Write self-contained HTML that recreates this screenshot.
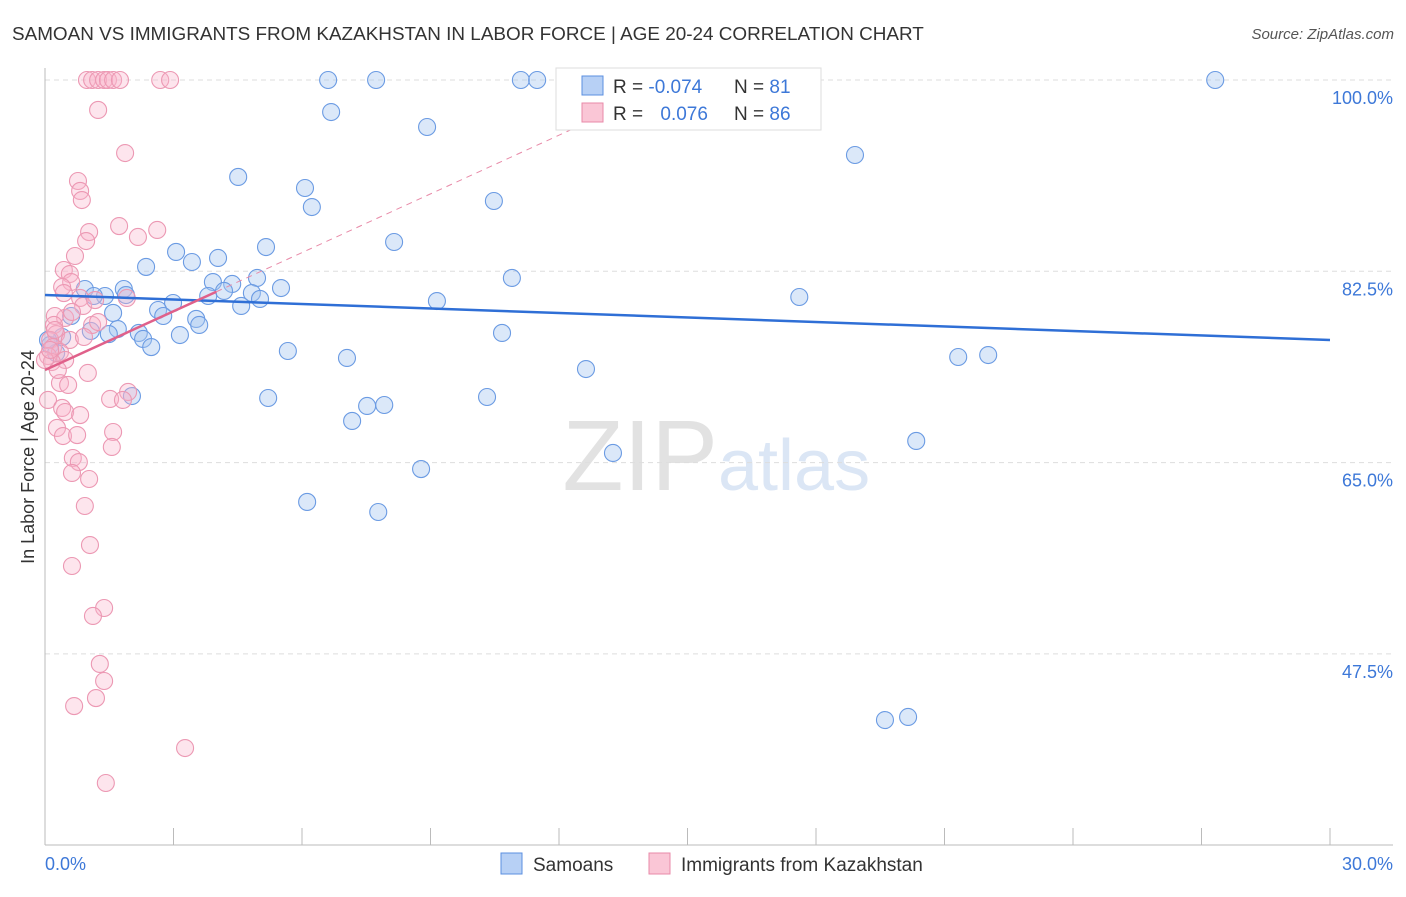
<!DOCTYPE html>
<html><head><meta charset="utf-8"><style>
body{margin:0;background:#fff;font-family:"Liberation Sans",sans-serif;}
svg text{font-family:"Liberation Sans",sans-serif;}
</style></head><body>
<svg width="1406" height="892" xmlns="http://www.w3.org/2000/svg">
<text x="12" y="40" font-size="18.9" fill="#333">SAMOAN VS IMMIGRANTS FROM KAZAKHSTAN IN LABOR FORCE | AGE 20-24 CORRELATION CHART</text>
<text x="1394" y="39" font-size="15" fill="#555" font-style="italic" text-anchor="end">Source: ZipAtlas.com</text>
<text x="718" y="490" font-size="100" fill="#e2e2e2" text-anchor="end" font-family="Liberation Serif">ZIP</text>
<text x="718" y="490" font-size="72" fill="#dbe6f5">atlas</text>
<g id="grid"></g>
<g id="axes"></g>
<g id="pts"></g>
<g id="trend"></g>
<text transform="translate(34,457) rotate(-90)" font-size="18" fill="#333" text-anchor="middle">In Labor Force | Age 20-24</text>
<text x="45" y="870" font-size="18" fill="#3d78d8">0.0%</text>
<text x="1393" y="870" font-size="18" fill="#3d78d8" text-anchor="end">30.0%</text>
<g>
<rect x="556" y="68" width="265" height="62" fill="#fff" stroke="#ddd"/>
<rect x="582" y="76" width="21" height="19" fill="#b7d0f5" stroke="#5b8fe0"/>
<rect x="582" y="103" width="21" height="19" fill="#fac6d6" stroke="#e88aa8"/>
<text x="613" y="93" font-size="19" fill="#333">R = <tspan fill="#3d78d8">-0.074</tspan></text>
<text x="734" y="93" font-size="19" fill="#333">N = <tspan fill="#3d78d8">81</tspan></text>
<text x="613" y="120" font-size="19" fill="#333">R = <tspan fill="#3d78d8" dx="12">0.076</tspan></text>
<text x="734" y="120" font-size="19" fill="#333">N = <tspan fill="#3d78d8">86</tspan></text>
</g>
<g>
<rect x="501" y="853" width="21" height="21" fill="#b7d0f5" stroke="#5b8fe0"/>
<text x="533" y="871" font-size="19" fill="#333">Samoans</text>
<rect x="649" y="853" width="21" height="21" fill="#fac6d6" stroke="#e88aa8"/>
<text x="681" y="871" font-size="19" fill="#333">Immigrants from Kazakhstan</text>
</g>
</svg>
<script>
const yTicks=[100,82.5,65,47.5];
const yTickLabels=["100.0%","82.5%","65.0%","47.5%"];
const xTicks=[0,3,6,9,12,15,18,21,24,27,30];
const blueX=[6.61,7.73,11.11,11.49,27.32,6.68,8.92,18.91,4.51,6.07,6.23,10.48,5.16,8.15,3.06,2.36,3.43,4.04,10.90,4.95,5.51,3.92,4.37,4.18,3.81,4.83,5.02,4.58,9.15,17.61,0.93,1.84,1.40,1.14,1.89,2.99,2.64,2.76,1.59,0.61,3.53,3.60,1.70,1.07,0.40,2.19,2.29,2.48,3.15,1.49,5.67,7.05,21.32,22.02,12.63,10.67,2.03,5.21,10.32,7.52,7.92,7.17,20.34,13.26,8.78,6.12,7.78,19.61,20.15,0.12,0.26,0.07];
const blueY=[100,100,100,100,100,97.07,95.70,93.14,91.13,90.12,88.38,88.93,84.72,85.18,84.27,82.90,83.35,83.72,81.89,81.89,80.97,81.52,81.34,80.70,80.24,80.51,79.97,79.33,79.78,80.15,80.88,80.88,80.24,80.24,80.33,79.60,78.96,78.41,78.69,78.41,78.14,77.59,77.22,77.04,76.49,76.86,76.31,75.57,76.67,76.76,75.21,74.57,74.66,74.84,73.56,76.86,71.09,70.91,71.00,70.18,70.27,68.81,66.98,65.88,64.41,61.40,60.48,41.45,41.73,75.76,75.03,76.22];
const pinkX=[0.98,1.10,1.24,1.38,1.47,1.59,1.75,2.69,2.92,1.24,1.87,0.77,0.82,0.86,1.73,2.62,2.17,1.03,0.96,0.70,0.44,0.58,0.61,0.40,0.44,0.82,0.89,1.17,1.91,0.47,0.23,0.63,0.21,1.10,1.24,0.26,0.58,0.91,0.12,0.19,0.35,0.47,0.07,0.16,0,1.00,0.35,0.54,1.94,1.52,1.82,0.07,0.40,0.47,0.82,0.28,1.59,0.42,0.75,1.56,0.65,0.79,0.63,1.03,0.93,1.05,0.63,1.38,1.12,1.28,1.38,1.19,0.68,3.27,1.42,0.23,0.12,0.30];
const pinkY=[100,100,100,100,100,100,100,100,100,97.26,93.32,90.76,89.85,89.02,86.64,86.28,85.64,86.09,85.27,83.90,82.62,82.25,81.52,81.06,80.51,80.06,79.33,79.87,80.06,78.23,78.41,78.78,77.59,77.59,77.86,76.76,76.22,76.49,76.22,75.57,75.12,74.39,74.75,74.20,74.39,73.20,72.28,72.10,71.46,70.82,70.73,70.73,70.00,69.63,69.35,68.17,67.80,67.43,67.52,66.43,65.42,65.05,64.05,63.50,61.03,57.46,55.54,51.70,50.97,46.58,45.02,43.46,42.73,38.89,35.69,77.13,75.30,73.47];
const blueTrend=[80.33,76.22];
const pinkTrend=[73.47,1.79];
const NS="http://www.w3.org/2000/svg";
const X=v=>45+v/30*1285;
const Y=v=>80+(100-v)/17.5*191.3;
function mk(t,a,p){const e=document.createElementNS(NS,t);for(const k in a)e.setAttribute(k,a[k]);p.appendChild(e);return e;}
const g=document.getElementById('grid'),ax=document.getElementById('axes'),pts=document.getElementById('pts'),tr=document.getElementById('trend');
yTicks.forEach((t,i)=>{
 const l=mk('line',{x1:45,x2:1393,y1:Y(t),y2:Y(t),stroke:'#ddd','stroke-dasharray':'5,4'},g);
 
 
 const tx=mk('text',{x:1393,y:Y(t)+24,'font-size':18,fill:'#3d78d8','text-anchor':'end'},ax);
 tx.textContent=yTickLabels[i];
 
 
});
const yl=mk('line',{x1:45,x2:45,y1:68,y2:845,stroke:'#bbb'},ax);


const xl=mk('line',{x1:45,x2:1393,y1:845,y2:845,stroke:'#bbb'},ax);


xTicks.forEach(t=>{
 const l=mk('line',{x1:X(t),x2:X(t),y1:828,y2:845,stroke:'#bbb'},ax);
 
 
});
blueX.forEach((v,i)=>{
 const c=mk('circle',{cx:X(v),cy:Y(blueY[i]),r:8.5,fill:'rgba(165,198,240,0.4)',stroke:'#6b9be3','stroke-width':1.1},pts);
 
 
});
pinkX.forEach((v,i)=>{
 const c=mk('circle',{cx:X(v),cy:Y(pinkY[i]),r:8.5,fill:'rgba(248,180,203,0.35)',stroke:'#ec98b3','stroke-width':1.1},pts);
 
 
});
const b=mk('line',{x1:X(0),y1:Y(blueTrend[0]),x2:X(30),y2:Y(blueTrend[1]),stroke:'#2f6fd6','stroke-width':2.5},tr);


const xe=(100.5-pinkTrend[0])/pinkTrend[1];
const pd=mk('line',{x1:X(4),y1:Y(pinkTrend[0]+4*pinkTrend[1]),x2:X(xe),y2:Y(pinkTrend[0]+xe*pinkTrend[1]),stroke:'#e88aa8','stroke-width':1,'stroke-dasharray':'6,5'},tr);


const p=mk('line',{x1:X(0),y1:Y(pinkTrend[0]),x2:X(4),y2:Y(pinkTrend[0]+4*pinkTrend[1]),stroke:'#e0608a','stroke-width':2.5},tr);


</script>
</body></html>
